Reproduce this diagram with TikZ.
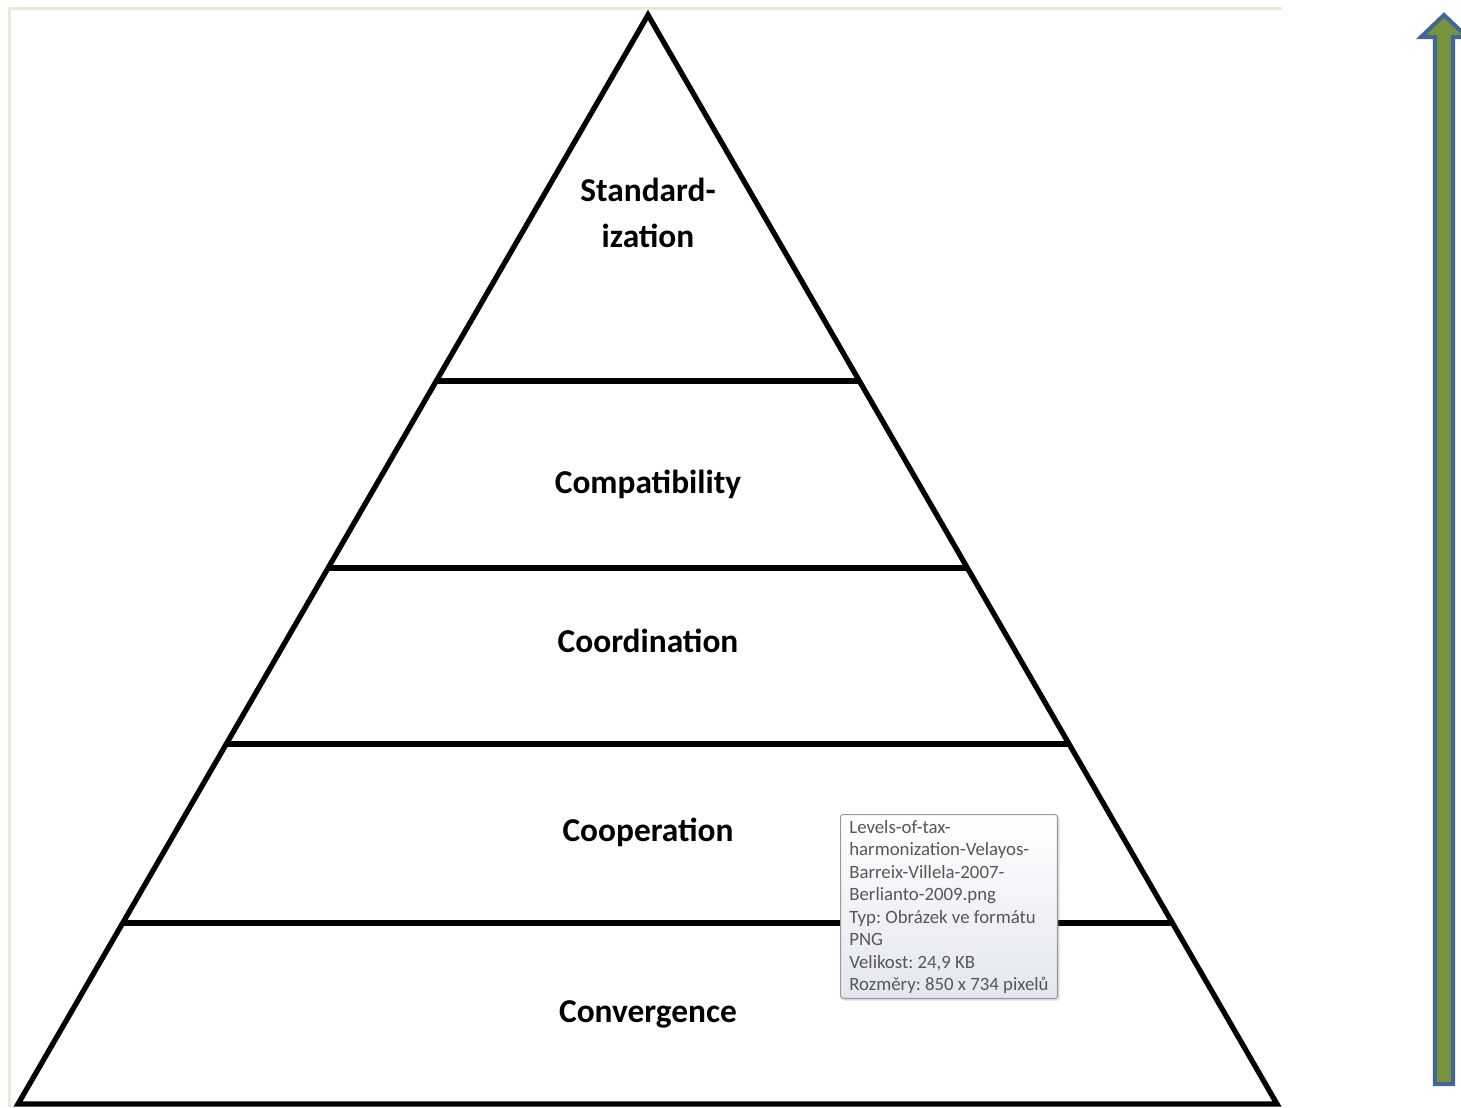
\documentclass[tikz,border=0pt]{standalone}
\usepackage{fontspec}
\setmainfont{Carlito}
\usetikzlibrary{shadows}
\frenchspacing

\definecolor{framebeige}{HTML}{ECE9D8}
\definecolor{arrowblue}{HTML}{41679A}
\definecolor{arrowgreen}{HTML}{77933C}
\definecolor{tipgray}{HTML}{575757}
\definecolor{tipedge}{HTML}{9A9A9A}
\definecolor{tipbottom}{HTML}{E4E6F0}

\tikzset{
	level/.style={font=\fontsize{19}{26.6}\selectfont\bfseries, align=center},
	tipbox/.style={draw=tipedge, line width=0.6pt, rounded corners=1.5pt, top color=white, bottom color=tipbottom, drop shadow={shadow xshift=1.2pt, shadow yshift=-1.2pt, opacity=0.25}},
	tiptext/.style={font=\fontsize{10.7}{12.8}\selectfont, text=tipgray, align=left, inner sep=0pt}
}

\begin{document}
\begin{tikzpicture}[x=0.02cm,y=-0.02cm]
		\useasboundingbox (0,0) rectangle (1461,1107);
		\draw[framebeige,line width=1.7pt] (9.5,1107) -- (9.5,8.5) -- (1282,8.5);

		% pyramid
		\coordinate (top) at (648,15);
		\coordinate (bl) at (18,1104);
		\coordinate (br) at (1277,1104);
		\draw[line width=3pt,line join=miter] (bl) -- (top) -- (br) -- cycle;
		\foreach \y in {381,568,744,923}
			\draw[line width=3pt] ({648-(630/1089)*(\y-15)},\y) -- ({648+(629/1089)*(\y-15)},\y);

		\node[level] (standard) at (648,213) {Standard-\\ization};
		\node[level] (compat) at (648,484) {Compatibility};
		\node[level] (coord) at (648,641) {Coordination};
		\node[level] (coop) at (648,832) {Cooperation};
		\node[level] (conv) at (648,1014) {Convergence};

		% tooltip
		\node[tipbox, anchor=north west, minimum width=4.34cm, minimum height=3.68cm, inner sep=0pt] (tipbg) at (840,814) {};
		\node[tiptext, anchor=north west] (tip) at (849,820) {Levels-of-tax-\\harmonization-Velayos-\\Barreix-Villela-2007-\\Berlianto-2009.png\\Typ: Obrázek ve formátu\\PNG\\Velikost: 24,9 KB\\Rozměry: 850 x 734 pixelů};

		% arrow
		\draw[arrowblue, fill=arrowgreen, line width=2.3pt, line join=miter]
			(1444,15) -- (1467,37) -- (1453,37) -- (1453,1084) -- (1435,1084) -- (1435,37) -- (1421,37) -- cycle;
\end{tikzpicture}
\end{document}
